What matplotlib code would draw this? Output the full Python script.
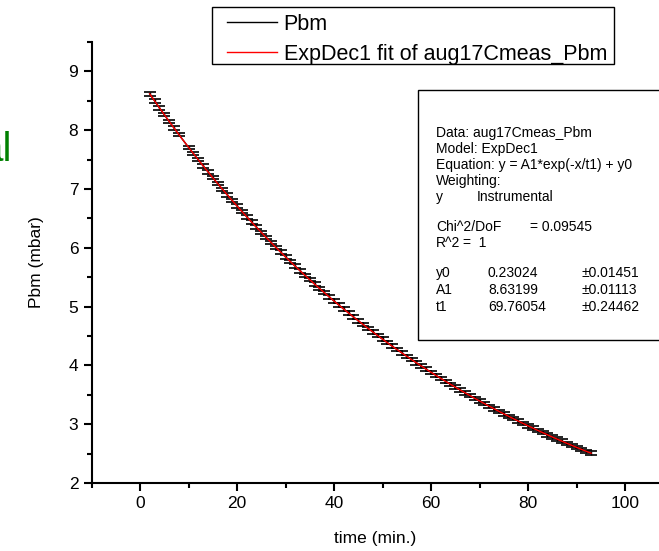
import numpy as np
import matplotlib
matplotlib.use("Agg")
import matplotlib.pyplot as plt
from matplotlib.patches import Rectangle

plt.rcParams['font.family'] = ['Liberation Sans', 'DejaVu Sans']

time_min = [2, 3, 4, 5, 6, 7, 8, 10, 11, 12, 13, 14, 15, 16, 17, 18, 19,
            20, 21, 22, 23, 24, 25, 26, 27, 28, 29,
            30, 31, 32, 33, 34, 35, 36, 37, 38, 39,
            40, 41, 42, 43, 44, 45, 46, 47, 48, 49,
            50, 51, 52, 53, 54, 55, 56, 57, 58, 59,
            60, 61, 62, 63, 64, 65, 66, 67, 68, 69,
            70, 71, 72, 73, 74, 75, 76, 77, 78, 79,
            80, 81, 82, 83, 84, 85, 86, 87, 88, 89,
            90, 91, 92, 93]
pbm = [8.618, 8.499, 8.381, 8.265, 8.151, 8.038, 7.927,
       7.709, 7.603, 7.498, 7.395, 7.293, 7.192, 7.093, 6.995, 6.899, 6.804,
       6.711, 6.618, 6.527, 6.438, 6.350, 6.262, 6.177, 6.092, 6.008, 5.926,
       5.845, 5.765, 5.686, 5.609, 5.532, 5.457, 5.382, 5.309, 5.237, 5.166,
       5.095, 5.026, 4.958, 4.891, 4.824, 4.759, 4.694, 4.631, 4.568, 4.506,
       4.446, 4.386, 4.326, 4.268, 4.211, 4.154, 4.098, 4.043, 3.989, 3.935,
       3.883, 3.831, 3.779, 3.729, 3.679, 3.630, 3.582, 3.534, 3.487, 3.441,
       3.395, 3.350, 3.305, 3.262, 3.219, 3.176, 3.134, 3.093, 3.052, 3.012,
       2.972, 2.933, 2.895, 2.857, 2.819, 2.783, 2.746, 2.710, 2.675, 2.640,
       2.606, 2.572, 2.539, 2.506]
pbm_err = 0.03

# fit result shown in the box
y0, A1, t1 = 0.23024, 8.63199, 69.76054
fit_range = (2, 93)

W, H = 659, 551
fig = plt.figure(figsize=(W / 100, H / 100), dpi=100)

def fx(px):
    return px / W

def fy(py):
    return 1 - py / H

# axes: x -10 at px 91.5, 107 at 659; y 2 at px 483, 9.5 at 42
ax = fig.add_axes([fx(91.5), fy(483), fx(659 - 91.5), (483 - 42) / H])
ax.set_xlim(-10, 107)
ax.set_ylim(2, 9.5)

ax.errorbar(time_min, pbm, yerr=pbm_err, fmt='-', color='black', lw=1,
            elinewidth=1, capsize=4.5, capthick=1.2, zorder=2)
xf = np.linspace(fit_range[0], fit_range[1], 300)
ax.plot(xf, A1 * np.exp(-xf / t1) + y0, color='red', lw=1, zorder=3)

for s in ['top', 'right']:
    ax.spines[s].set_visible(False)
for s in ['left', 'bottom']:
    ax.spines[s].set_linewidth(1.5)

ax.set_xticks([0, 20, 40, 60, 80, 100])
ax.set_xticks(np.arange(-10, 107, 10), minor=True)
ax.set_yticks([2, 3, 4, 5, 6, 7, 8, 9])
ax.set_yticks(np.arange(2.5, 9.6, 1), minor=True)
ax.tick_params(which='major', direction='out', length=6, width=1.5, labelsize=12.5)
ax.tick_params(which='minor', direction='out', length=3.5, width=1.5)
ax.set_xlabel('time (min.)', fontsize=12.5, labelpad=14)
ax.set_ylabel('Pbm (mbar)', fontsize=12.5, labelpad=18)

# legend (frame drawn separately so the padding can match)
fig.patches.append(Rectangle((fx(212), fy(64)), fx(614 - 212), (64 - 7) / H,
                             transform=fig.transFigure, facecolor='white',
                             edgecolor='black', lw=1, zorder=4))
h1, = ax.plot([], [], color='black', lw=1)
h2, = ax.plot([], [], color='red', lw=1)
leg = fig.legend([h1, h2], ['Pbm', 'ExpDec1 fit of aug17Cmeas_Pbm'],
                 loc='upper left', bbox_to_anchor=(fx(227), fy(14)),
                 fontsize=15.5, frameon=False,
                 borderpad=0, handlelength=2.3, handletextpad=0.33,
                 labelspacing=0.4, borderaxespad=0)
leg.set_zorder(5)

# fit parameter box
fig.patches.append(Rectangle((fx(418), fy(340)), fx(300), (340 - 90) / H,
                             transform=fig.transFigure, facecolor='white',
                             edgecolor='black', lw=1, zorder=5))
fs = 10
rows = [
    (133, [(436, 'Data: aug17Cmeas_Pbm')]),
    (149, [(436, 'Model: ExpDec1')]),
    (165, [(436, 'Equation: y = A1*exp(-x/t1) + y0')]),
    (181, [(436, 'Weighting:')]),
    (197, [(436, 'y'), (477, 'Instrumental')]),
    (227, [(436, 'Chi^2/DoF'), (530, '= 0.09545')]),
    (243, [(436, 'R^2'), (463, '=  1')]),
    (273, [(436, 'y0'), (488, '0.23024'), (582, '±0.01451')]),
    (290, [(436, 'A1'), (488, '8.63199'), (582, '±0.01113')]),
    (307, [(436, 't1'), (488, '69.76054'), (582, '±0.24462')]),
]
for py, items in rows:
    for px, s in items:
        fig.text(fx(px), fy(py), s, fontsize=fs, va='center', ha='left', zorder=6)

# cut-off green label at the left edge (cropped in the original too)
fig.text(fx(11.5), fy(150), 'al', color='#008000', fontsize=29,
         ha='right', va='center')

fig.savefig('out.png', dpi=100)
